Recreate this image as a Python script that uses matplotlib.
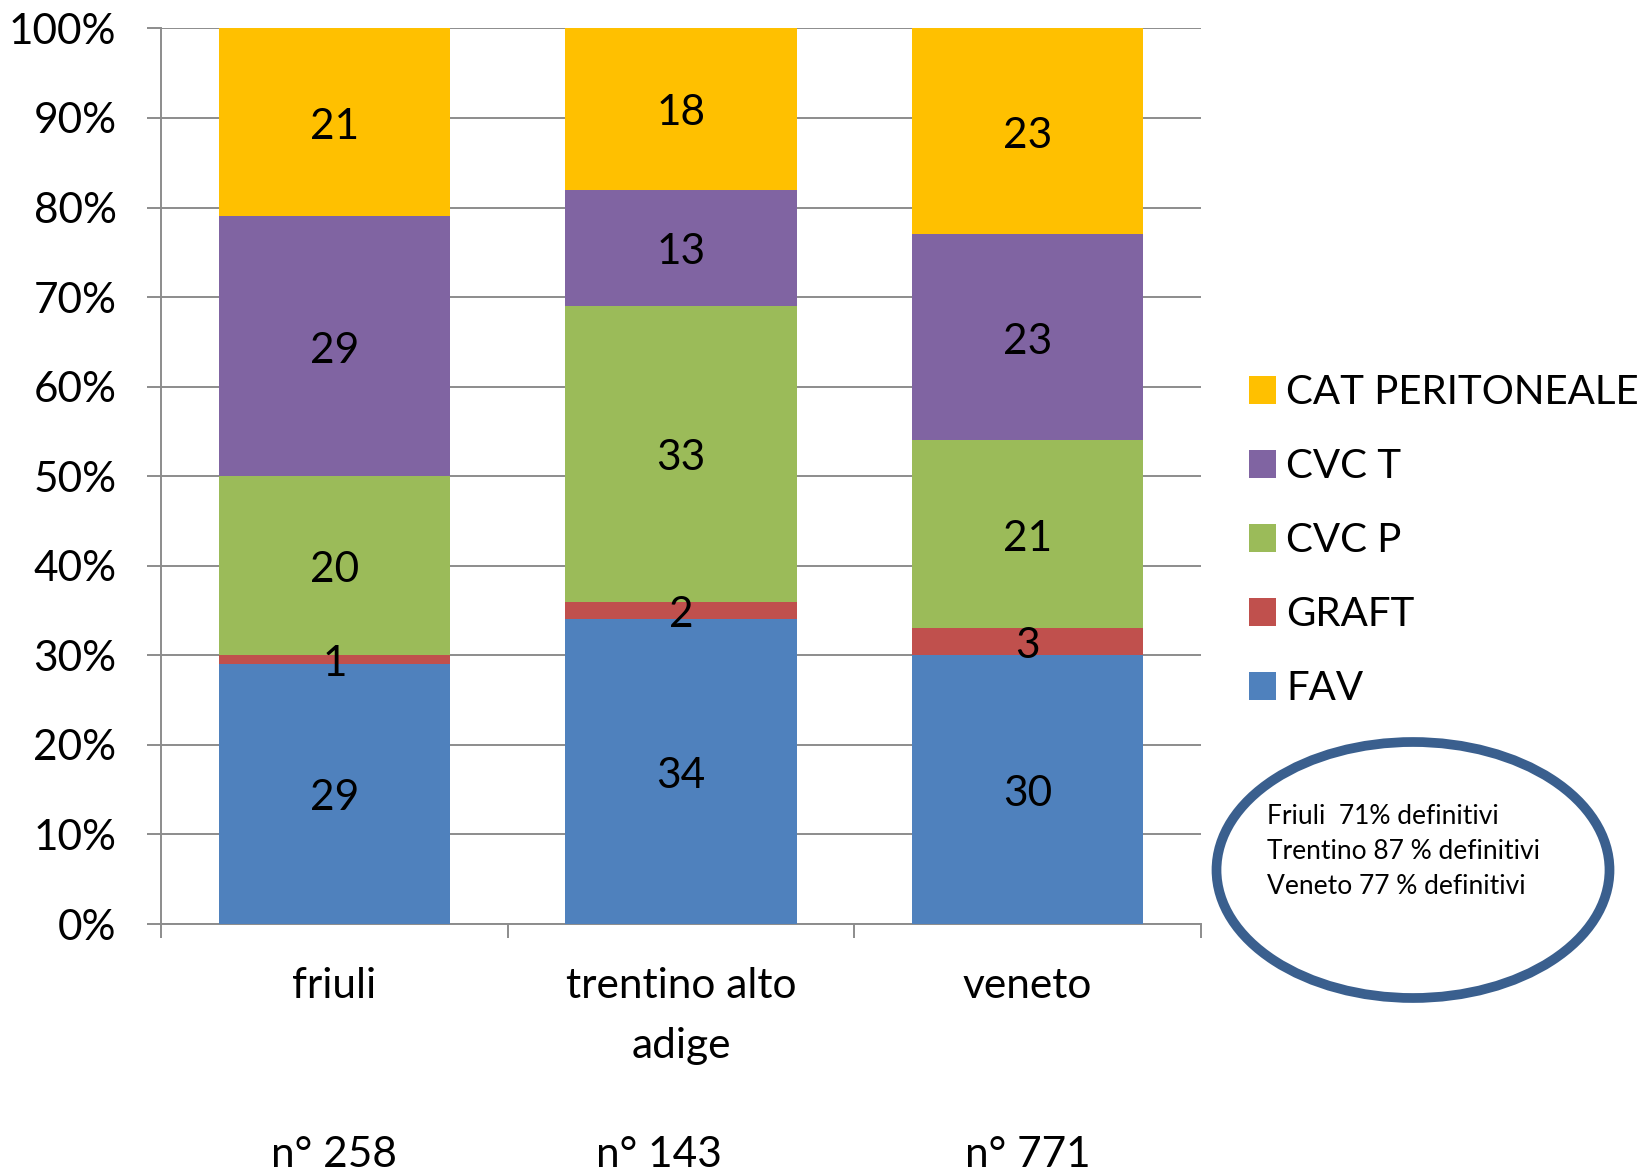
import matplotlib
matplotlib.use("Agg")
import matplotlib.pyplot as plt
from matplotlib.patches import Ellipse, Patch
from matplotlib.transforms import blended_transform_factory
import numpy as np

plt.rcParams['font.family'] = ['Lato', 'DejaVu Sans']

# data: percentage of each access type per region
regions = ["friuli", "trentino alto\nadige", "veneto"]
counts = ["n° 258", "n° 143", "n° 771"]
count_offsets = [0.0, -0.064, 0.0]
series = ["FAV", "GRAFT", "CVC P", "CVC T", "CAT PERITONEALE"]
fav = [29, 34, 30]
graft = [1, 2, 3]
cvc_p = [20, 33, 21]
cvc_t = [29, 13, 23]
cat_perit = [21, 18, 23]
colors = ["#4F81BD", "#C0504D", "#9BBB59", "#8064A2", "#FFC000"]
notes = ["Friuli  71% definitivi", "Trentino 87 % definitivi", "Veneto 77 % definitivi"]

values = [fav, graft, cvc_p, cvc_t, cat_perit]

W, H = 1647, 1172
FS = 30.5
fig = plt.figure(figsize=(W / 100, H / 100), dpi=100)
ax = fig.add_axes([161 / W, 1 - 924 / H, (1201 - 161) / W, (924 - 28.4) / H])

x = np.arange(len(regions))
bottom = np.zeros(len(regions))
for name, vals, col in zip(series, values, colors):
    vals = np.array(vals, dtype=float)
    bars = ax.bar(x, vals, width=2 / 3, bottom=bottom, color=col, label=name,
                  zorder=3, linewidth=0)
    texts = ax.bar_label(bars, labels=[str(int(v)) for v in vals], label_type='center',
                         fontsize=FS, color='black', zorder=4)
    for t in texts:
        t.xyann = (0, -3)
    bottom += vals

grid_col = "#8C8C8C"
ax.set_xlim(-0.5, len(regions) - 0.5)
ax.set_ylim(0, 100)
ax.set_yticks(np.arange(0, 101, 10))
ax.set_yticklabels([f"{v}%" for v in range(0, 101, 10)], fontsize=FS)
ax.yaxis.grid(True, color=grid_col, linewidth=1.4, zorder=0)
ax.tick_params(axis='y', length=10, width=1.4, color=grid_col, pad=22)

# category ticks sit on the boundaries between groups
ax.set_xticks(np.arange(-0.5, len(regions), 1.0))
ax.set_xticklabels([])
ax.tick_params(axis='x', length=10, width=1.4, color=grid_col)
ax.set_xticks(x, minor=True)
ax.set_xticklabels(regions, minor=True, fontsize=FS, linespacing=1.72)
ax.tick_params(axis='x', which='minor', length=0, pad=31)

for side in ['top', 'right']:
    ax.spines[side].set_visible(False)
for side in ['left', 'bottom']:
    ax.spines[side].set_color(grid_col)
    ax.spines[side].set_linewidth(1.4)

# sample sizes below each category
count_tr = blended_transform_factory(ax.transData, fig.transFigure)
for xi, txt, off in zip(x, counts, count_offsets):
    ax.text(xi + off, 1 - 1167 / H, txt, transform=count_tr,
            ha='center', va='baseline', fontsize=FS)

# legend, top entry first
handles = [Patch(facecolor=c, edgecolor='none') for c in colors][::-1]
fig.legend(handles, series[::-1], loc='upper left',
           bbox_to_anchor=(1249 / W, 1 - 374 / H), frameon=False, fontsize=29,
           handlelength=0.67, handleheight=0.67, handletextpad=0.26,
           labelspacing=0.92, borderaxespad=0, borderpad=0)

# summary ellipse
ell = Ellipse((1413 / W, 1 - 870 / H), 393 / W, 256 / H, transform=fig.transFigure,
              facecolor='white', edgecolor='#3A5F8E', linewidth=7)
fig.add_artist(ell)
for i, line in enumerate(notes):
    fig.text(1267 / W, 1 - (824 + 35 * i) / H, line, fontsize=19, va='baseline', ha='left')

fig.savefig("out.png", dpi=100, facecolor='white')
